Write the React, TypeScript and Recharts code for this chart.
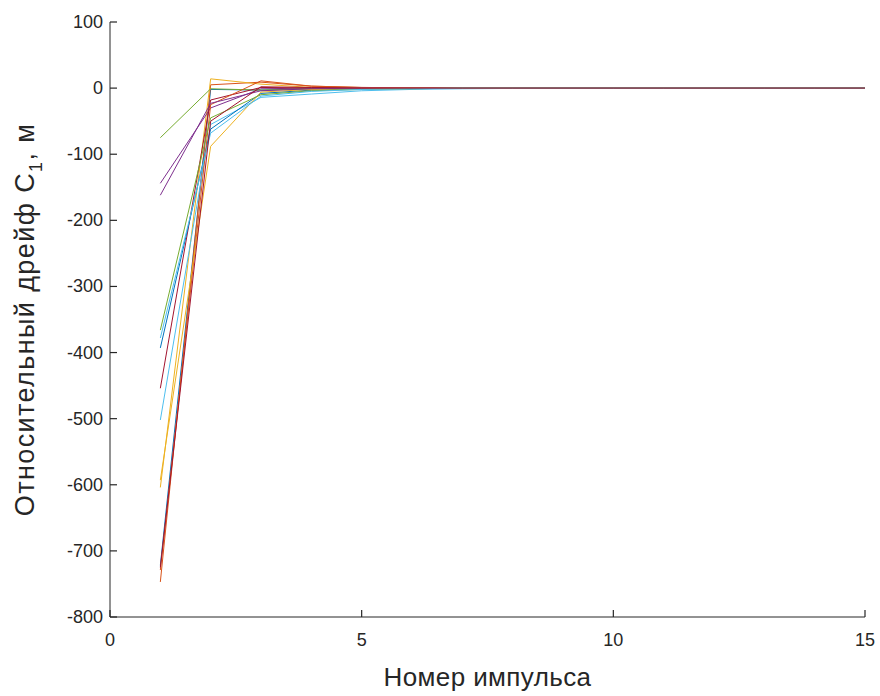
import React from 'react';
import { LineChart, Line, XAxis, YAxis, Label } from 'recharts';

const impulses = [1, 2, 3, 4, 5, 6, 7, 8, 9, 10, 11, 12, 13, 14, 15];
const xTicks = [0, 5, 10, 15];
const yTicks = [-800, -700, -600, -500, -400, -300, -200, -100, 0, 100];

const s01 = [-722, -2, -3, -1, -0.5, 0, 0, 0, 0, 0, 0, 0, 0, 0, 0];
const s02 = [-747, 5, 9, 3, 1, 0.5, 0.3, 0, 0, 0, 0, 0, 0, 0, 0];
const s03 = [-604, 14, 6, 1, 0.5, 0, 0, 0, 0, 0, 0, 0, 0, 0, 0];
const s04 = [-144, -30, -1, 0, 0, 0, 0, 0, 0, 0, 0, 0, 0, 0, 0];
const s05 = [-75, -1, -3, -1, 0, 0, 0, 0, 0, 0, 0, 0, 0, 0, 0];
const s06 = [-502, -55, -14, -9, -4, -2, -1, -0.5, 0, 0, 0, 0, 0, 0, 0];
const s07 = [-454, -18, 1, 0, 0, 0, 0, 0, 0, 0, 0, 0, 0, 0, 0];
const s08 = [-393, -62, -8, -3, -1, -0.5, 0, 0, 0, 0, 0, 0, 0, 0, 0];
const s09 = [-729, -25, 11, 3, 1, 0.5, 0, 0, 0, 0, 0, 0, 0, 0, 0];
const s10 = [-593, -88, -6, -2, -1, 0, 0, 0, 0, 0, 0, 0, 0, 0, 0];
const s11 = [-162, -23, -4, -1, 0, 0, 0, 0, 0, 0, 0, 0, 0, 0, 0];
const s12 = [-366, -45, -10, -4, -2, -1, 0, 0, 0, 0, 0, 0, 0, 0, 0];
const s13 = [-378, -68, -12, -5, -2, -1, 0, 0, 0, 0, 0, 0, 0, 0, 0];
const s14 = [-725, -50, 2, 1, 0, 0, 0, 0, 0, 0, 0, 0, 0, 0, 0];

const seriesList = [s01, s02, s03, s04, s05, s06, s07, s08, s09, s10, s11, s12, s13, s14];
const colors = ['#0072BD', '#D95319', '#EDB120', '#7E2F8E', '#77AC30', '#4DBEEE', '#A2142F'];

const data = impulses.map((x, i) => {
  const row: Record<string, number> = { x };
  seriesList.forEach((s, k) => {
    row['s' + k] = s[i];
  });
  return row;
});

const FONT = 'Arial, "Liberation Sans", Helvetica, sans-serif';
const TXT = '#262626';

const XTick = (props: any) => {
  const { x, y, payload } = props;
  return (
    <text x={x} y={y + 29} textAnchor="middle" fontSize={18} fill={TXT} fontFamily={FONT}>
      {payload.value}
    </text>
  );
};

const YTick = (props: any) => {
  const { x, y, payload } = props;
  return (
    <text x={x - 7} y={y + 6} textAnchor="end" fontSize={18} fill={TXT} fontFamily={FONT}>
      {payload.value}
    </text>
  );
};

const XLabel = (props: any) => {
  const vb = props.viewBox;
  return (
    <text
      x={vb.x + vb.width / 2}
      y={vb.y + 69}
      textAnchor="middle"
      fontSize={26}
      letterSpacing={0.4}
      fill={TXT}
      fontFamily={FONT}
    >
      Номер импульса
    </text>
  );
};

const YLabel = (props: any) => {
  const vb = props.viewBox;
  const cx = 34;
  const cy = vb.y + vb.height / 2;
  return (
    <text
      x={cx}
      y={cy}
      transform={`rotate(-90 ${cx} ${cy})`}
      textAnchor="middle"
      fontSize={27}
      letterSpacing={1.4}
      fill={TXT}
      fontFamily={FONT}
    >
      Относительный дрейф C
      <tspan fontSize={18} dy={8}>1</tspan>
      <tspan dy={-8}>, м</tspan>
    </text>
  );
};

const tickLineStyle = { stroke: TXT, strokeWidth: 1.2 };

export default function App() {
  return (
    <div style={{ position: 'absolute', left: 0, top: 0, width: 880, height: 696, background: '#fff' }}>
      <LineChart width={880} height={696} data={data} margin={{ top: 22, right: 15, bottom: 0, left: 0 }}>
        <XAxis
          dataKey="x"
          type="number"
          domain={[0, 15]}
          ticks={xTicks}
          allowDataOverflow
          tickLine={tickLineStyle}
          tickSize={-7}
          tickMargin={7}
          tick={<XTick />}
          stroke={TXT}
          height={79}
        >
          <Label content={<XLabel />} />
        </XAxis>
        <XAxis
          xAxisId="top"
          orientation="top"
          dataKey="x"
          type="number"
          domain={[0, 15]}
          ticks={xTicks}
          tick={false}
          tickLine={false}
          stroke={TXT}
          height={0}
        />
        <YAxis
          type="number"
          domain={[-800, 100]}
          ticks={yTicks}
          allowDataOverflow
          tickLine={tickLineStyle}
          tickSize={-7}
          tickMargin={7}
          tick={<YTick />}
          stroke={TXT}
          width={110}
        >
          <Label content={<YLabel />} />
        </YAxis>
        <YAxis
          yAxisId="right"
          orientation="right"
          type="number"
          domain={[-800, 100]}
          tick={false}
          tickLine={false}
          stroke={TXT}
          width={0}
        />
        {seriesList.map((_, k) => (
          <Line
            key={k}
            dataKey={'s' + k}
            stroke={colors[k % colors.length]}
            strokeWidth={1}
            dot={false}
            isAnimationActive={false}
          />
        ))}
      </LineChart>
    </div>
  );
}
